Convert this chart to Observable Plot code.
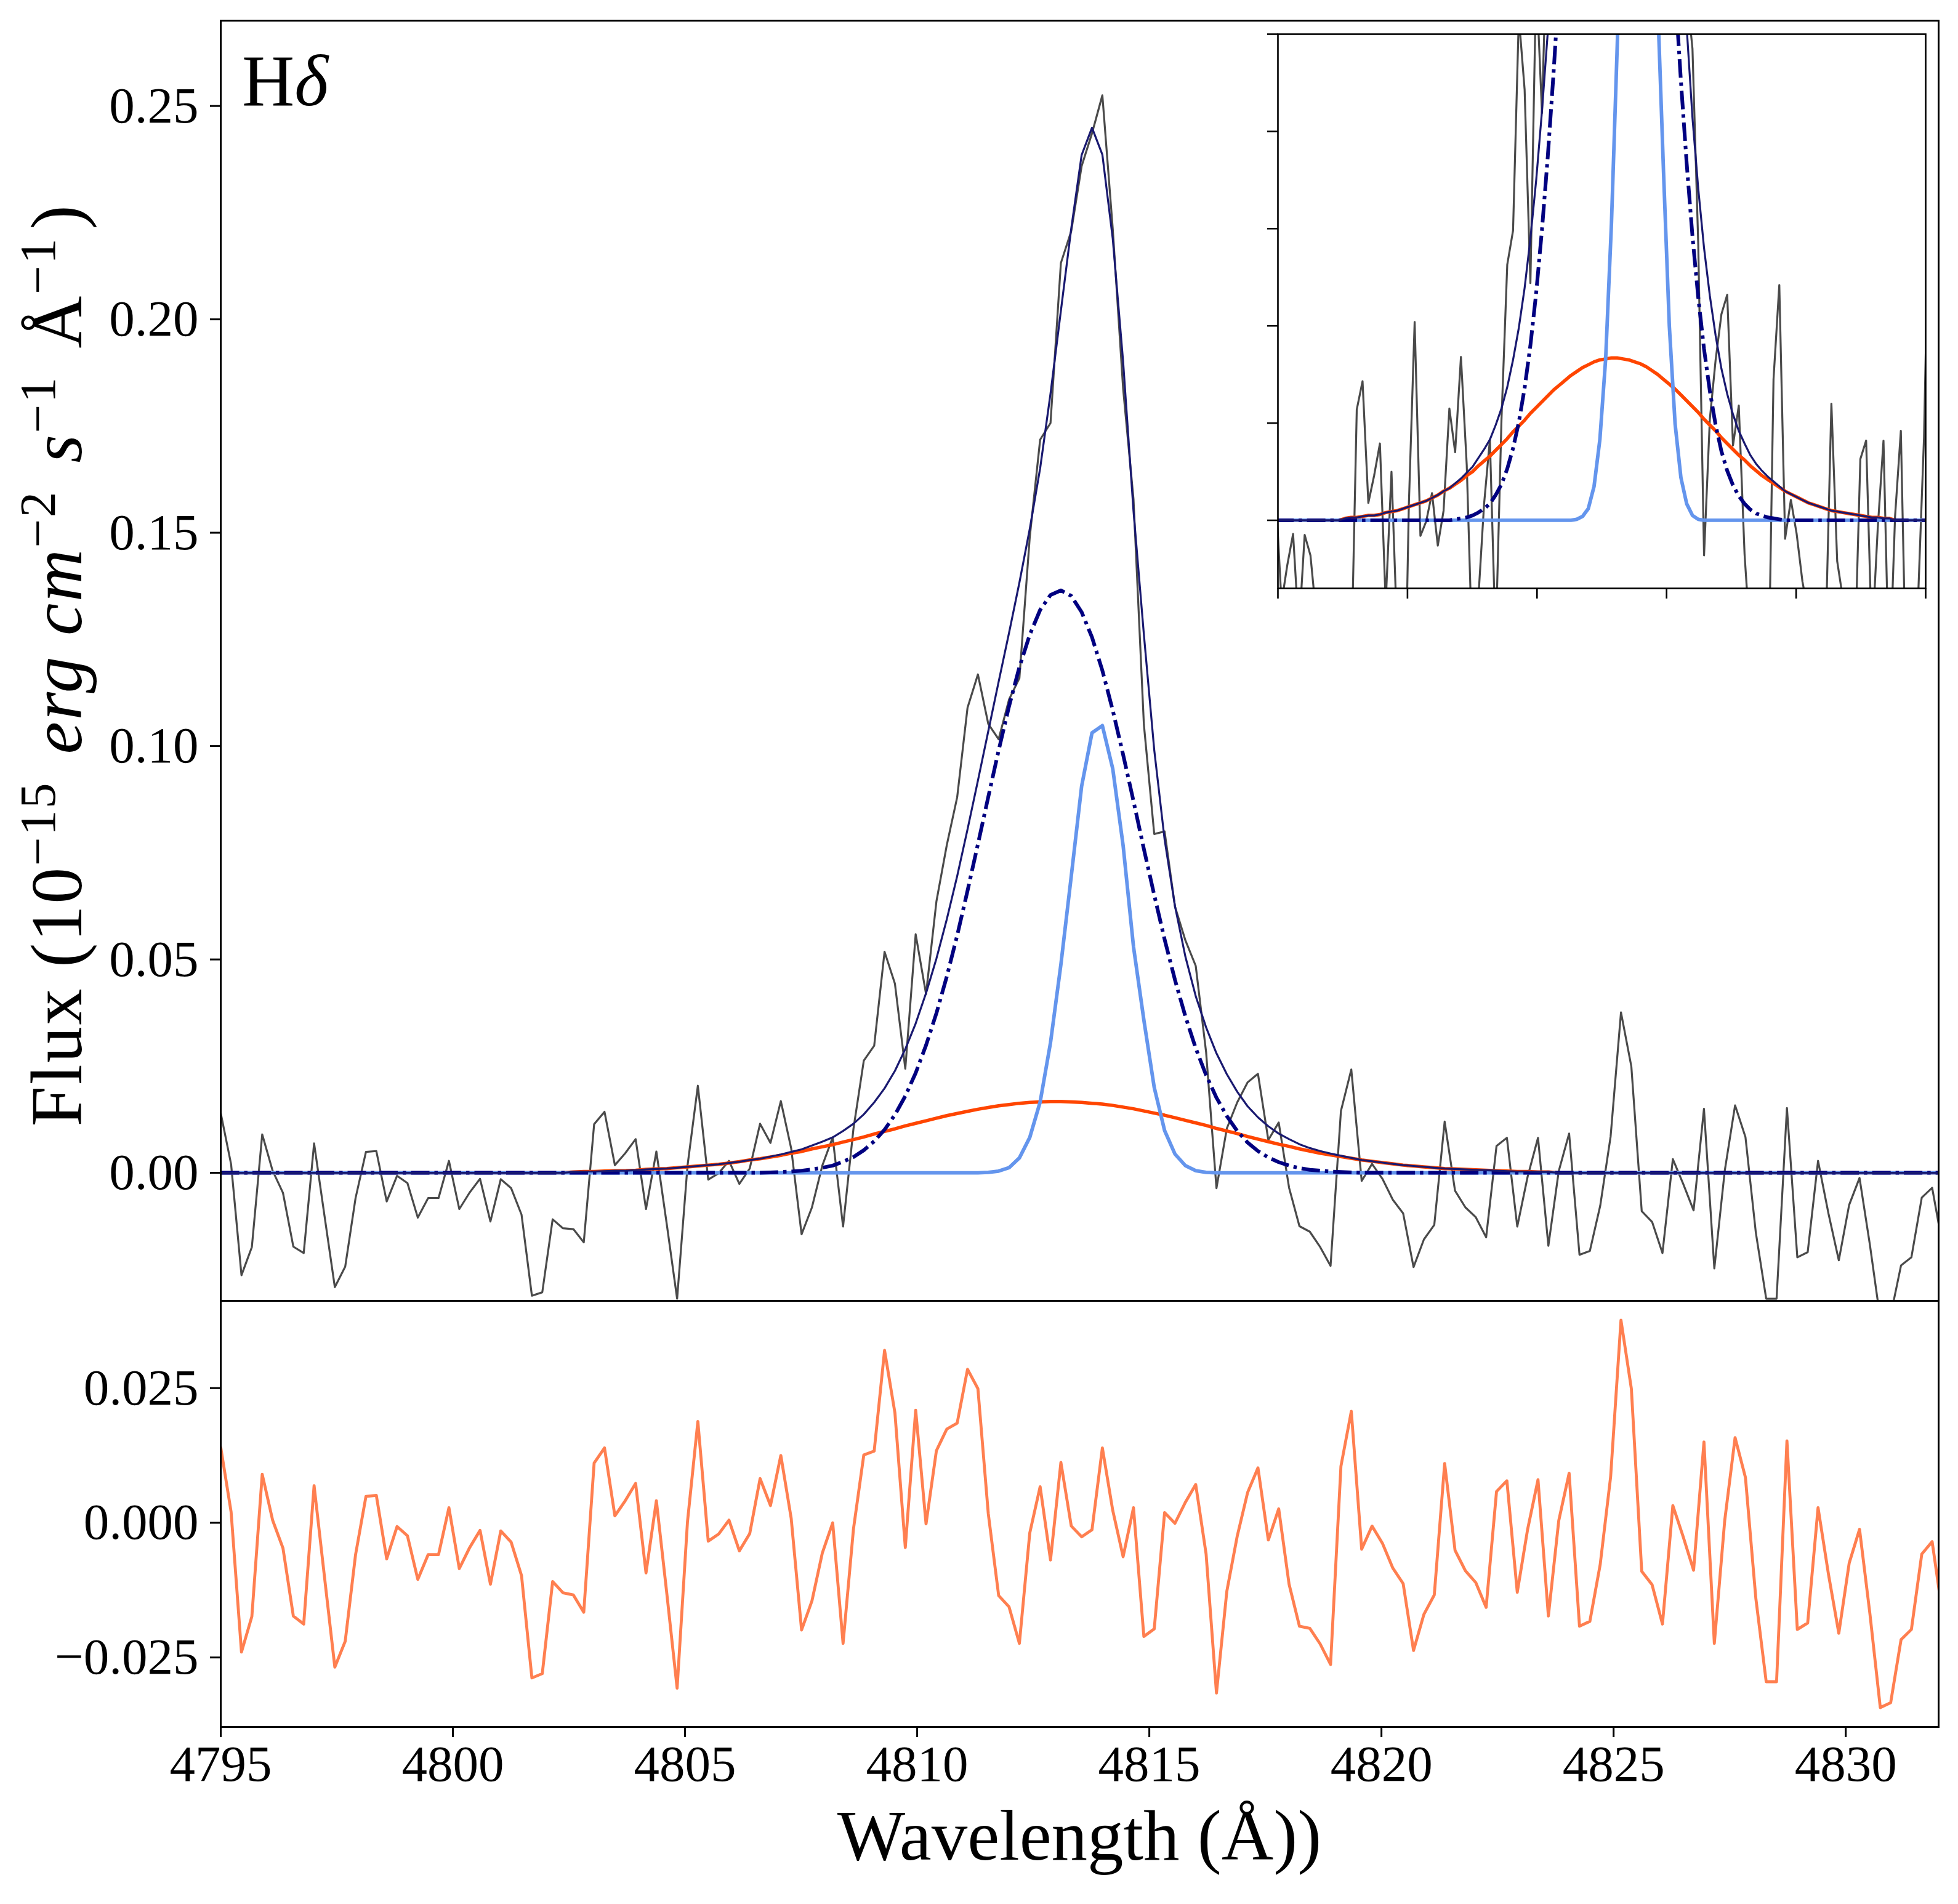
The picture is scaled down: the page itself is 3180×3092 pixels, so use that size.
<!DOCTYPE html>
<html>
<head>
<meta charset="utf-8">
<script src="https://cdn.jsdelivr.net/npm/d3@7"></script>
<script src="https://cdn.jsdelivr.net/npm/@observablehq/plot@0.6"></script>
<style>
html, body { margin: 0; padding: 0; background: #ffffff; }
#fig { position: relative; width: 3180px; height: 3092px; background: #ffffff; font-family: "Liberation Serif", serif; }
#fig svg { position: absolute; overflow: visible; }
</style>
</head>
<body>
<div id="fig"></div>
<script>
// ---------------- data ----------------
const lambdaStart = 4795.0;   // first sample (Å)
const lambdaStep = 0.2234;    // sampling step (Å)

// residual (data - model), one value per sample
const residual = [
  0.014, 0.002, -0.024, -0.0174, 0.009, 0.0005, -0.0047, -0.0173, -0.0188, 0.0069,
  -0.010, -0.0268, -0.022, -0.0059, 0.0049, 0.0051, -0.0067, -0.0007, -0.0024, -0.0105,
  -0.0059, -0.0059, 0.0028, -0.0085, -0.0046, -0.0014, -0.0114, -0.0015, -0.0036, -0.0098,
  -0.0288, -0.028, -0.0109, -0.013, -0.0134, -0.0166, 0.0111, 0.0139, 0.0013, 0.0041,
  0.0073, -0.0093, 0.0041, -0.013, -0.0307, 0.0002, 0.0188, -0.0034, -0.0021, 0.0005,
  -0.0052, -0.002, 0.0082, 0.0032, 0.0125, 0.0008, -0.0199, -0.0145, -0.0056, 0.0,
  -0.0224, -0.0012, 0.0126, 0.0133, 0.032, 0.0204, -0.0046, 0.0209, -0.0002, 0.0134,
  0.0174, 0.0185, 0.0285, 0.0249, 0.0017, -0.0135, -0.0156, -0.0224, -0.0019, 0.0067,
  -0.0069, 0.0112, -0.0006, -0.0026, -0.0013, 0.0139, 0.0023, -0.0063, 0.0028, -0.0211,
  -0.0197, 0.0019, -0.0001, 0.0038, 0.0071, -0.0058, -0.0316, -0.0127, -0.0025, 0.0056,
  0.0102, -0.0032, 0.0026, -0.0114, -0.0192, -0.0196, -0.0225, -0.0263, 0.0105, 0.0207,
  -0.0049, -0.0006, -0.0038, -0.0084, -0.0113, -0.0237, -0.017, -0.0134, 0.011, -0.0051,
  -0.0089, -0.0111, -0.0157, 0.0058, 0.0078, -0.0129, -0.0012, 0.008, -0.0173, 0.0004,
  0.0092, -0.0192, -0.0183, -0.0077, 0.0085, 0.0376, 0.0249, -0.009, -0.0115, -0.0188,
  0.0032, -0.0026, -0.0088, 0.015, -0.0224, 0.0004, 0.0158, 0.0084, -0.014, -0.0295,
  -0.0295, 0.0152, -0.0198, -0.0186, 0.0028, -0.0095, -0.0205, -0.0075, -0.0012, -0.0169,
  -0.0343, -0.0334, -0.0217, -0.0198, -0.0058, -0.0035, -0.017
];

// broad component (orange-red), samples 34..128 (zero elsewhere)
const broadStart = 34;
const broad = [
  0.0002, 0.0003, 0.0003, 0.0004, 0.0005, 0.0005, 0.0006, 0.0008, 0.0009, 0.0010,
  0.0012, 0.0014, 0.0016, 0.0018, 0.0020, 0.0023, 0.0026, 0.0030, 0.0033, 0.0037,
  0.0041, 0.0046, 0.0050, 0.0056, 0.0061, 0.0066, 0.0072, 0.0078, 0.0084, 0.0091,
  0.0097, 0.0103, 0.0110, 0.0116, 0.0122, 0.0128, 0.0134, 0.0139, 0.0144, 0.0149,
  0.0153, 0.0157, 0.0160, 0.0163, 0.0165, 0.0166, 0.0167, 0.0167, 0.0166, 0.0165,
  0.0163, 0.0161, 0.0158, 0.0154, 0.0150, 0.0145, 0.0140, 0.0135, 0.0129, 0.0123,
  0.0117, 0.0111, 0.0104, 0.0098, 0.0092, 0.0085, 0.0079, 0.0073, 0.0067, 0.0062,
  0.0056, 0.0051, 0.0046, 0.0042, 0.0038, 0.0034, 0.0030, 0.0027, 0.0024, 0.0021,
  0.0018, 0.0016, 0.0014, 0.0012, 0.0010, 0.0009, 0.0008, 0.0007, 0.0006, 0.0005,
  0.0004, 0.0003, 0.0003, 0.0002, 0.0002
];

// intermediate component (navy dash-dot), samples 53..109
const interStart = 53;
const inter = [
  0.0001, 0.0002, 0.0003, 0.0005, 0.0008, 0.0012, 0.0017, 0.0026, 0.0037, 0.0053,
  0.0074, 0.0101, 0.0136, 0.0180, 0.0234, 0.0299, 0.0374, 0.0460, 0.0556, 0.0661,
  0.0770, 0.0881, 0.0990, 0.1093, 0.1185, 0.1261, 0.1319, 0.1354, 0.1365, 0.1352,
  0.1314, 0.1255, 0.1177, 0.1084, 0.0980, 0.0871, 0.0759, 0.0651, 0.0547, 0.0452,
  0.0367, 0.0292, 0.0229, 0.0176, 0.0133, 0.0098, 0.0071, 0.0051, 0.0036, 0.0025,
  0.0017, 0.0011, 0.0007, 0.0005, 0.0003, 0.0002, 0.0001
];

// narrow component (light blue), samples 74..95
const narrowStart = 74;
const narrow = [
  0.0001, 0.0004, 0.0012, 0.0035, 0.0083, 0.0166, 0.0305, 0.0488, 0.0695, 0.0906,
  0.1031, 0.1048, 0.0947, 0.0767, 0.0530, 0.0358, 0.0200, 0.0099, 0.0044, 0.0017,
  0.0005, 0.0001
];

// axis ticks / labels
const xTicks = [4795, 4800, 4805, 4810, 4815, 4820, 4825, 4830];
const fluxTicks = [0.00, 0.05, 0.10, 0.15, 0.20, 0.25];
const residTicks = [-0.025, 0.000, 0.025];
const insetXTicks = [4800, 4805, 4810, 4815, 4820, 4825];
const insetYTicks = [0.00, 0.01, 0.02, 0.03, 0.04, 0.05];
const lineLabel = "H";
const lineLabelGreek = "δ";
const xLabel = "Wavelength (Å))";

// ---------------- table ----------------
const pick = (arr, start, i) => (i >= start && i < start + arr.length) ? arr[i - start] : 0;
const table = residual.map((r, i) => {
  const b = pick(broad, broadStart, i);
  const m = pick(inter, interStart, i);
  const n = pick(narrow, narrowStart, i);
  const total = b + m + n;
  return {
    w: +(lambdaStart + i * lambdaStep).toFixed(4),
    residual: r, broad: b, inter: m, narrow: n, total, flux: total + r
  };
});

// ---------------- styles ----------------
const FONT = "Liberation Serif";
const C = {
  data: "#4a4a4a", total: "#191970", inter: "#000080",
  narrow: "#6495ED", broad: "#FF4500", resid: "#FF7F50"
};
const dashDot = "30,8,5.5,8";

function lineMarks() {
  return [
    Plot.line(table, {x: "w", y: "flux", stroke: C.data, strokeWidth: 3.2, clip: true}),
    Plot.line(table, {x: "w", y: "broad", stroke: C.broad, strokeWidth: 5.5, clip: true}),
    Plot.line(table, {x: "w", y: "narrow", stroke: C.narrow, strokeWidth: 5.8, clip: true}),
    Plot.line(table, {x: "w", y: "inter", stroke: C.inter, strokeWidth: 6, strokeDasharray: dashDot, strokeLinecap: "butt", strokeLinejoin: "round", clip: true}),
    Plot.line(table, {x: "w", y: "total", stroke: C.total, strokeWidth: 3.2, clip: true})
  ];
}

const fig = document.getElementById("fig");

// ---------------- main panel ----------------
const mainPlot = Plot.plot({
  width: 3180, height: 2112,
  marginLeft: 358, marginRight: 32, marginTop: 33, marginBottom: 0,
  style: {background: "transparent", fontFamily: FONT, color: "black", overflow: "visible"},
  x: {domain: [4795, 4832], axis: null},
  y: {domain: [-0.03, 0.27], axis: null},
  marks: [
    ...lineMarks(),
    Plot.axisY({ticks: fluxTicks, tickFormat: d3.format(".2f"), tickSize: 17, tickPadding: 19,
                fontSize: 83, strokeWidth: 3, label: null, anchor: "left"}),
    Plot.frame({stroke: "black", strokeWidth: 3})
  ]
});
mainPlot.style.left = "0px";
mainPlot.style.top = "0px";
fig.appendChild(mainPlot);

{
  const svg = d3.select(mainPlot);
  // Hδ label
  const t = svg.append("text")
    .attr("x", 393).attr("y", 171)
    .attr("text-anchor", "start")
    .attr("font-family", FONT).attr("font-size", 118).attr("fill", "black");
  t.append("tspan").text(lineLabel);
  t.append("tspan").attr("font-style", "italic").text(lineLabelGreek);

  // y axis label
  const yl = svg.append("text")
    .attr("transform", "translate(132,1080) rotate(-90)")
    .attr("text-anchor", "middle")
    .attr("letter-spacing", 2.5)
    .attr("font-family", FONT).attr("font-size", 118).attr("fill", "black");
  const sup = (s) => { yl.append("tspan").attr("font-size", 83).attr("dy", -43).text(s);
                       yl.append("tspan").attr("dy", 43).text("\u200A"); };
  yl.append("tspan").text("Flux (10");
  sup("\u221215");
  yl.append("tspan").text(" ");
  yl.append("tspan").attr("font-style", "italic").text("erg cm");
  sup("\u22122");
  yl.append("tspan").text(" ");
  yl.append("tspan").attr("font-style", "italic").text("s");
  sup("\u22121");
  yl.append("tspan").text(" Å");
  sup("\u22121");
  yl.append("tspan").text(")");
}

// ---------------- residual panel ----------------
const residPlot = Plot.plot({
  width: 3180, height: 980,
  marginLeft: 358, marginRight: 32, marginTop: 0, marginBottom: 288,
  style: {background: "transparent", fontFamily: FONT, color: "black", overflow: "visible"},
  x: {domain: [4795, 4832], axis: null},
  y: {domain: [-0.0379, 0.0412], axis: null},
  marks: [
    Plot.line(table, {x: "w", y: "residual", stroke: C.resid, strokeWidth: 4.8, clip: true}),
    Plot.axisY({ticks: residTicks, tickFormat: d3.format(".3f"), tickSize: 17, tickPadding: 19,
                fontSize: 83, strokeWidth: 3, label: null, anchor: "left"}),
    Plot.axisX({ticks: xTicks, tickFormat: d3.format("d"), tickSize: 17, tickPadding: 12,
                fontSize: 83, strokeWidth: 3, label: null, anchor: "bottom"}),
    Plot.frame({stroke: "black", strokeWidth: 3})
  ]
});
residPlot.style.left = "0px";
residPlot.style.top = "2112px";
fig.appendChild(residPlot);
d3.select(residPlot).append("text")
  .attr("x", 1753).attr("y", 3020 - 2112)
  .attr("text-anchor", "middle")
  .attr("font-family", FONT).attr("font-size", 117).attr("fill", "black")
  .text(xLabel);

// ---------------- inset ----------------
const insetPlot = Plot.plot({
  width: 1087, height: 935,
  marginLeft: 30, marginRight: 5, marginTop: 5, marginBottom: 30,
  style: {background: "transparent", fontFamily: FONT, color: "black", overflow: "visible"},
  x: {domain: [4800, 4825], axis: null},
  y: {domain: [-0.007, 0.05], axis: null},
  marks: [
    Plot.frame({fill: "white", stroke: null}),
    ...lineMarks(),
    Plot.axisX({ticks: insetXTicks, tickFormat: () => "", tickSize: 17, strokeWidth: 2.6, label: null, anchor: "bottom"}),
    Plot.axisY({ticks: insetYTicks, tickFormat: () => "", tickSize: 17, strokeWidth: 2.6, label: null, anchor: "left"}),
    Plot.frame({stroke: "black", strokeWidth: 2.6})
  ]
});
insetPlot.style.left = "2045px";
insetPlot.style.top = "50px";
fig.appendChild(insetPlot);
</script>
</body>
</html>
